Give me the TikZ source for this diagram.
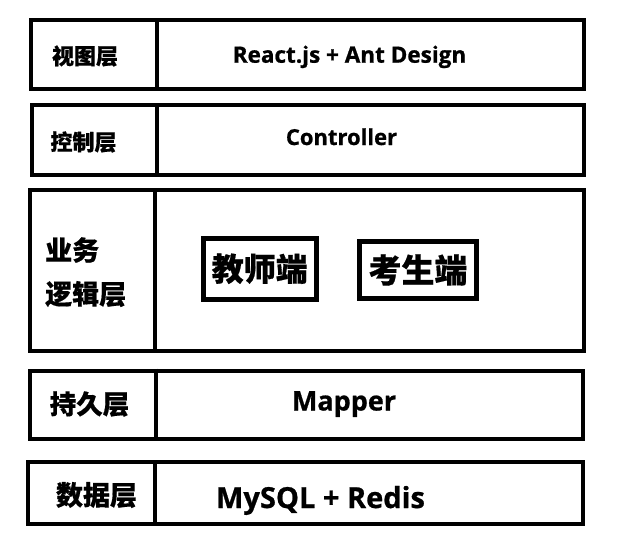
\documentclass[tikz,border=0pt]{standalone}
\usepackage{fontspec}
\setmainfont{Open Sans}
\newfontfamily\enfont{Open Sans}[BoldFeatures={FakeBold=0.8}]
\newfontfamily\cjkfont{Noto Sans CJK SC}[BoldFeatures={FakeBold=0.5}]
\newcommand{\fs}[1]{\fontsize{#1}{#1}\selectfont}
\begin{document}
\begin{tikzpicture}[x=1pt,y=-1pt,
  layer/.style={draw, line width=4pt, inner sep=0pt},
  inbox/.style={draw, line width=5pt, inner sep=0pt, font=\cjkfont\bfseries\fs{32}},
  lab/.style={inner sep=0pt, font=\cjkfont\bfseries},
  en/.style={inner sep=0pt, anchor=base, font=\enfont\bfseries}]
\useasboundingbox (0,0) rectangle (629,550);
% layer boxes
\node[layer, minimum width=552.7pt, minimum height=69pt] (b1) at (307.65,54.5) {};
\node[layer, minimum width=552.5pt, minimum height=69.5pt] (b2) at (307.75,139.75) {};
\node[layer, minimum width=554.5pt, minimum height=160.5pt] (b3) at (306.75,270.25) {};
\node[layer, minimum width=553.5pt, minimum height=68.5pt] (b4) at (306.25,404.75) {};
\node[layer, minimum width=555pt, minimum height=61.7pt] (b5) at (305.5,493.15) {};
% dividers
\draw[line width=4pt] (b1.north -| 157,0) -- (b1.south -| 157,0);
\draw[line width=4pt] (b2.north -| 157,0) -- (b2.south -| 157,0);
\draw[line width=4pt] (b3.north -| 155,0) -- (b3.south -| 155,0);
\draw[line width=4pt] (b4.north -| 155.5,0) -- (b4.south -| 155.5,0);
\draw[line width=4pt] (b5.north -| 155,0) -- (b5.south -| 155,0);
% left labels
\node[lab, font=\cjkfont\bfseries\fs{22}] (l1) at (85,56) {视图层};
\node[lab, font=\cjkfont\bfseries\fs{22}] (l2) at (83.5,142) {控制层};
\node[lab, anchor=west, font=\cjkfont\bfseries\fs{27}] (l3a) at (45,250) {业务};
\node[lab, anchor=west, font=\cjkfont\bfseries\fs{27}] (l3b) at (45,294) {逻辑层};
\node[lab, font=\cjkfont\bfseries\fs{26.5}] (l4) at (89.5,404) {持久层};
\node[lab, font=\cjkfont\bfseries\fs{27}] (l5) at (96.5,495) {数据层};
% right contents
\node[en, font=\enfont\bfseries\fs{22.5}] (r1) at (349.5,62.7) {React.js + Ant Design};
\node[en, font=\enfont\bfseries\fs{22}] (r2) at (341.5,145) {Controller};
\node[en, font=\enfont\bfseries\fs{27}] (r4) at (344,410.5) {Mapper};
\node[en, font=\enfont\bfseries\fs{29}] (r5) at (320.5,508) {MySQL + Redis};
% inner boxes
\node[inbox, minimum width=112.5pt, minimum height=60.5pt] (teacher) at (259.75,268.75) {教师端};
\node[inbox, minimum width=117pt, minimum height=57pt, font=\cjkfont\bfseries\fs{33}] (student) at (418,270) {考生端};
\end{tikzpicture}
\end{document}
